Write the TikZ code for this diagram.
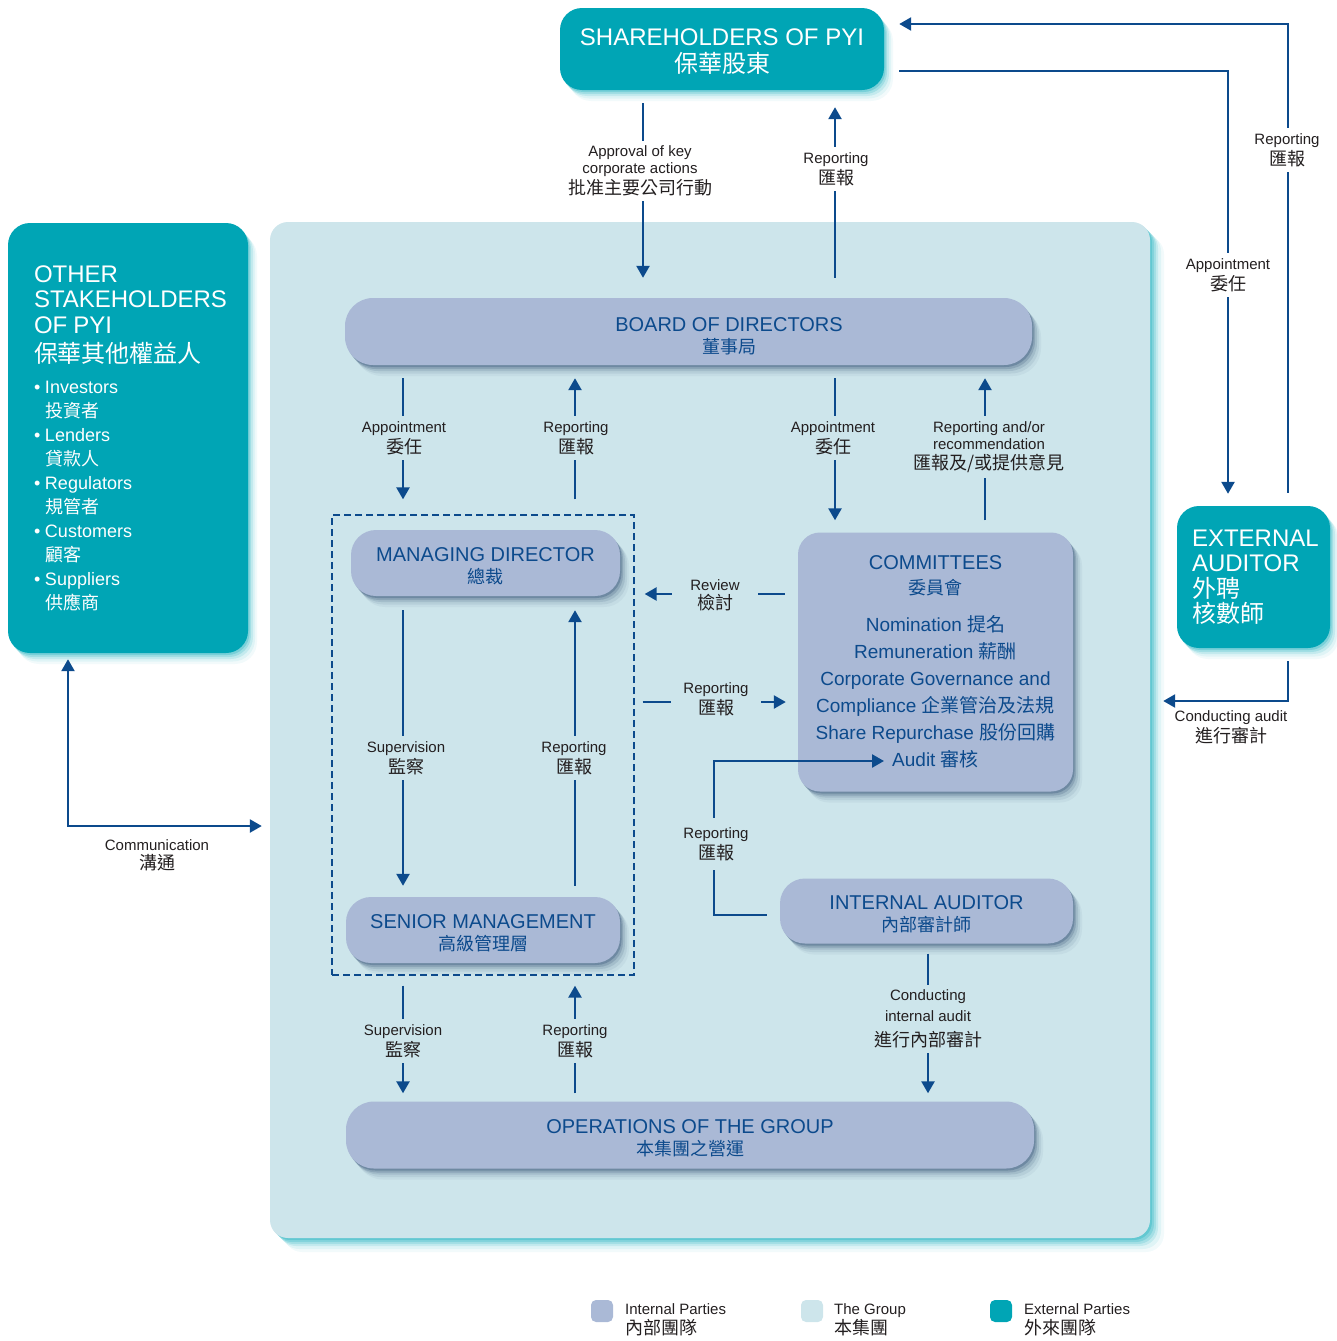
\documentclass[tikz,border=0pt]{standalone}
\usepackage{fontspec}
\setmainfont{Liberation Sans}
\newfontfamily\cjk{Noto Sans CJK TC}
\usetikzlibrary{arrows.meta,shadows}
\definecolor{extcol}{RGB}{0,165,181}
\definecolor{intcol}{RGB}{170,185,214}
\definecolor{grpcol}{RGB}{205,229,235}
\definecolor{arrcol}{RGB}{12,74,140}
\definecolor{lblcol}{RGB}{35,31,32}
\definecolor{shcol}{RGB}{30,60,100}
\newcommand{\zh}[1]{{\cjk #1}}
\newcommand{\zl}[1]{{\cjk\fontsize{18}{18}\selectfont #1}}
\newcommand{\zb}[1]{{\cjk\fontsize{18}{22}\selectfont #1}}
\newcommand{\lb}[2]{#1\\[2pt]\zl{#2}}
\newcommand{\itm}[2]{\makebox[11pt][l]{•}#1\\\hspace*{11pt}\zh{#2}}
\tikzset{
  every node/.style={inner sep=0pt},
  glow/.style={general shadow={fill=#1, opacity=.25, shadow xshift=1.5pt, shadow yshift=-2pt},
    general shadow={fill=#1, opacity=.18, shadow xshift=3pt, shadow yshift=-4pt},
    general shadow={fill=#1, opacity=.12, shadow xshift=5pt, shadow yshift=-6pt},
    general shadow={fill=#1, opacity=.08, shadow xshift=7pt, shadow yshift=-8.5pt},
    general shadow={fill=#1, opacity=.05, shadow xshift=9pt, shadow yshift=-11pt}},
  grpglow/.style={general shadow={fill=extcol, opacity=.25, shadow xshift=2pt, shadow yshift=-2pt},
    general shadow={fill=extcol, opacity=.2, shadow xshift=4pt, shadow yshift=-4pt},
    general shadow={fill=extcol, opacity=.16, shadow xshift=6pt, shadow yshift=-6pt},
    general shadow={fill=extcol, opacity=.12, shadow xshift=8pt, shadow yshift=-8pt},
    general shadow={fill=extcol, opacity=.08, shadow xshift=11pt, shadow yshift=-11pt},
    general shadow={fill=extcol, opacity=.05, shadow xshift=14pt, shadow yshift=-14pt}},
  extbox/.style={glow=extcol, fill=extcol, rounded corners=22pt, text=white},
  intbox/.style={glow=shcol, fill=intcol},
  intxt/.style={text=arrcol, align=center, font=\fontsize{20}{22}\selectfont},
  twoline/.style={text height=41.5pt, text depth=0pt},
  arr/.style={draw=arrcol, line width=2.5pt, -{Triangle[width=13pt,length=12pt]}},
  lbl/.style={align=center, text=lblcol, font=\fontsize{15}{17}\selectfont, fill=grpcol, inner xsep=4pt, inner ysep=5pt},
  legbox/.style={rounded corners=5pt, minimum size=22pt},
  legtxt/.style={anchor=west, align=left, text=lblcol, font=\fontsize{15}{20}\selectfont},
}
\begin{document}
\begin{tikzpicture}[x=1pt,y=-1pt]
\useasboundingbox (0,0) rectangle (1337,1341);
%% the group
\node[grpglow, fill=grpcol, rounded corners=18pt, minimum width=880pt, minimum height=1016pt] (grp) at (710,730) {};
%% external parties
\node[extbox, minimum width=324pt, minimum height=82pt, align=center, font=\fontsize{24}{27}\selectfont, text height=46.5pt, text depth=0pt] (sh) at (722,49) {SHAREHOLDERS OF PYI\\\zh{保華股東}};
\node[extbox, minimum width=240pt, minimum height=430pt, text width=188pt, inner xsep=26pt, align=left, font=\fontsize{18}{24}\selectfont] (ot) at (128,438)
  {{\fontsize{24}{24}\selectfont OTHER}\\[1.5pt]{\fontsize{24}{24}\selectfont STAKEHOLDERS}\\[1.5pt]{\fontsize{24}{24}\selectfont OF PYI}\\[5pt]{\cjk\fontsize{24}{24}\selectfont 保華其他權益人}\\[7pt]
   \itm{Investors}{投資者}\\\itm{Lenders}{貸款人}\\\itm{Regulators}{規管者}\\\itm{Customers}{顧客}\\\itm{Suppliers}{供應商}};
\node[extbox, minimum width=153pt, minimum height=142pt, text width=123pt, inner xsep=15pt, align=left, font=\fontsize{24}{25.5}\selectfont] (ea) at (1253.5,577) {EXTERNAL\\AUDITOR\\\zh{外聘}\\\zh{核數師}};
%% internal parties
\node[intbox, rounded corners=28pt, minimum width=687pt, minimum height=67pt] (bd) at (688.5,331.5) {};
\node[intxt, twoline] (bdt) at (729,333) {BOARD OF DIRECTORS\\\zb{董事局}};
\node[draw=arrcol, dash pattern=on 7pt off 4pt, line width=1.3pt, minimum width=302pt, minimum height=460pt] (mdsm) at (483,745) {};
\node[intbox, intxt, twoline, rounded corners=25pt, minimum width=269pt, minimum height=66pt] (md) at (485.5,563) {MANAGING DIRECTOR\\\zb{總裁}};
\node[intbox, intxt, twoline, rounded corners=25pt, minimum width=274pt, minimum height=66pt] (sm) at (483,930) {SENIOR MANAGEMENT\\\zb{高級管理層}};
\node[intbox, intxt, rounded corners=22pt, minimum width=275pt, minimum height=259pt, font=\fontsize{19}{27}\selectfont] (cm) at (935.5,662)
  {{\fontsize{20}{22}\selectfont COMMITTEES}\\[-2pt]\zb{委員會}\\[10pt]Nomination \zh{提名}\\Remuneration \zh{薪酬}\\Corporate Governance and\\Compliance \zh{企業管治及法規}\\Share Repurchase \zh{股份回購}\\Audit \zh{審核}};
\node[intbox, intxt, twoline, rounded corners=25pt, minimum width=293pt, minimum height=65pt] (ia) at (926.5,911) {INTERNAL AUDITOR\\\zb{內部審計師}};
\node[intbox, intxt, twoline, rounded corners=28pt, minimum width=688pt, minimum height=67pt] (op) at (690,1135) {OPERATIONS OF THE GROUP\\\zb{本集團之營運}};
%% columns and rows of the connectors
\coordinate (cA) at (643,0);
\coordinate (cB) at (835,0);
\coordinate (cC) at (403,0);
\coordinate (cD) at (575,0);
\coordinate (cE) at (985,0);
\coordinate (cF) at (928,0);
\coordinate (cG) at (714,0);
\coordinate (rR) at (0,594);
\coordinate (rS) at (0,702);
\coordinate (audit) at (884,761);
%% connectors
\draw[arr, shorten <=13pt, shorten >=20pt] (sh.south -| cA) -- (bd.north -| cA);
\draw[arr, shorten <=20pt, shorten >=17pt] (bd.north -| cB) -- (sh.south -| cB);
\draw[arr, shorten <=13pt, shorten >=15pt] (bd.south -| cC) -- (mdsm.north -| cC);
\draw[arr, shorten <=15pt, shorten >=13pt] (mdsm.north -| cD) -- (bd.south -| cD);
\draw[arr, shorten <=13pt, shorten >=12pt] (bd.south -| cB) -- (cm.north -| cB);
\draw[arr, shorten <=12pt, shorten >=13pt] (cm.north -| cE) -- (bd.south -| cE);
\draw[arr, shorten <=14pt, shorten >=11pt] (md.south -| cC) -- (sm.north -| cC);
\draw[arr, shorten <=11pt, shorten >=14pt] (sm.north -| cD) -- (md.south -| cD);
\draw[arr, shorten <=10pt, shorten >=8pt] (mdsm.south -| cC) -- (op.north -| cC);
\draw[arr, shorten <=8pt, shorten >=10pt] (op.north -| cD) -- (mdsm.south -| cD);
\draw[arr, shorten <=10pt, shorten >=8pt] (ia.south -| cF) -- (op.north -| cF);
\draw[arr, shorten <=13pt, shorten >=10pt] (cm.west |- rR) -- (mdsm.east |- rR);
\draw[arr, shorten <=8pt, shorten >=12pt] (mdsm.east |- rS) -- (cm.west |- rS);
\draw[arr, shorten <=13pt] ([shift={(0,4)}]ia.west) -| (audit -| cG) -- (audit);
\draw[arr, shorten <=15pt, shorten >=12pt] ([shift={(0,22)}]sh.east) -| ([shift={(-25.5,0)}]ea.north);
\draw[arr, shorten <=13pt, shorten >=15pt] ([shift={(34.5,0)}]ea.north) |- ([shift={(0,-25)}]sh.east);
\draw[arr, shorten <=13pt, shorten >=13pt] ([shift={(34.5,0)}]ea.south) |- ([shift={(0,-29)}]grp.east);
\draw[arr, {Triangle[width=13pt,length=12pt]}-{Triangle[width=13pt,length=12pt]}, shorten <=6pt, shorten >=8pt] ([shift={(-60,0)}]ot.south) |- ([shift={(0,96)}]grp.west);
%% labels
\node[lbl, fill=white] (lapp) at (640,171) {Approval of key\\corporate actions\\[2pt]\zl{批准主要公司行動}};
\node[lbl, fill=white] (lrep1) at (836,169) {\lb{Reporting}{匯報}};
\node[lbl] (lapp2) at (404,438) {\lb{Appointment}{委任}};
\node[lbl] (lrep2) at (576,438) {\lb{Reporting}{匯報}};
\node[lbl] (lapp3) at (833,438) {\lb{Appointment}{委任}};
\node[lbl] (lrepor) at (989,447) {Reporting and/or\\recommendation\\[3pt]\zl{匯報及/或提供意見}};
\node[lbl] (lsup1) at (406,758) {\lb{Supervision}{監察}};
\node[lbl] (lrep3) at (574,758) {\lb{Reporting}{匯報}};
\node[lbl, inner xsep=18pt] (lrev) at (715,595) {\lb{Review}{檢討}};
\node[lbl, inner xsep=12pt] (lrep4) at (716,699) {\lb{Reporting}{匯報}};
\node[lbl, inner ysep=9pt] (lrep5) at (716,844) {\lb{Reporting}{匯報}};
\node[lbl, font=\fontsize{15}{21}\selectfont] (lcond) at (928,1019) {Conducting\\internal audit\\[4pt]\zl{進行內部審計}};
\node[lbl] (lsup2) at (403,1041) {\lb{Supervision}{監察}};
\node[lbl] (lrep6) at (575,1041) {\lb{Reporting}{匯報}};
\node[lbl, fill=white] (lappea) at (1228,275) {\lb{Appointment}{委任}};
\node[lbl, fill=white] (lrepea) at (1287,150) {\lb{Reporting}{匯報}};
\node[lbl, fill=none] (lconda) at (1231,727) {\lb{Conducting audit}{進行審計}};
\node[lbl, fill=none] (lcomm) at (157,855) {\lb{Communication}{溝通}};
%% legend
\node[legbox, fill=intcol] (lg1) at (602,1311) {};
\node[legtxt] (lg1t) at (625,1320) {Internal Parties\\\zl{內部團隊}};
\node[legbox, fill=grpcol] (lg2) at (812,1311) {};
\node[legtxt] (lg2t) at (834,1320) {The Group\\\zl{本集團}};
\node[legbox, fill=extcol] (lg3) at (1001,1311) {};
\node[legtxt] (lg3t) at (1024,1320) {External Parties\\\zl{外來團隊}};
\end{tikzpicture}
\end{document}
